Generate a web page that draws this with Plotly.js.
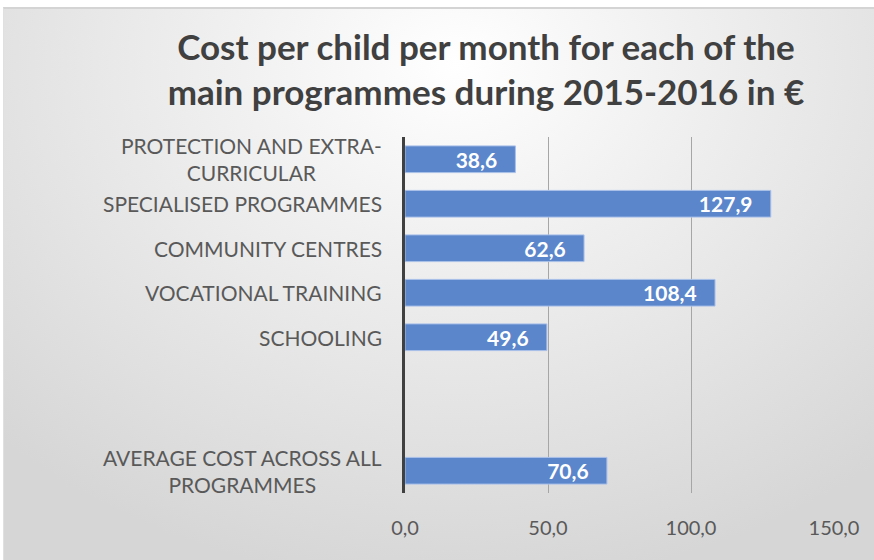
<!DOCTYPE html>
<html>
<head>
<meta charset="utf-8">
<script src="https://cdn.plot.ly/plotly-3.0.1.min.js"></script>
<style>
  html, body { margin: 0; padding: 0; width: 874px; height: 560px; background: #ffffff; overflow: hidden; }
  #frame { position: absolute; left: 3px; top: 7px; width: 871px; height: 553px;
           border-top: 2px solid #d4d4d4; border-left: 1px solid #e0e0e0; box-sizing: border-box;
           background: radial-gradient(ellipse 75% 95% at 52% 10%, #ffffff 0%, #f0f0f0 35%, #d6d6d6 100%); }
  #chart { position: absolute; left: 0; top: 0; width: 874px; height: 560px; }
</style>
</head>
<body>
<div id="frame"></div>
<div id="chart"></div>
<script>
const categories = [
  "PROTECTION AND EXTRA-<br>CURRICULAR",
  "SPECIALISED PROGRAMMES",
  "COMMUNITY CENTRES",
  "VOCATIONAL TRAINING",
  "SCHOOLING",
  " ",
  "  ",
  "AVERAGE COST ACROSS ALL<br>PROGRAMMES"
];
const values = [38.6, 127.9, 62.6, 108.4, 49.6, null, null, 70.6];
const xTickVals = [0, 50, 100, 150];
const xTickText = ["0,0", "50,0", "100,0", "150,0"];
const titleText = "Cost per child per month for each of the<br>main programmes during 2015-2016 in €";

const labels = values.map(v => v === null ? "" : v.toFixed(1).replace(".", ",") + "\u00a0\u00a0\u00a0");

const trace = {
  type: "bar",
  orientation: "h",
  y: categories,
  x: values,
  text: labels,
  textposition: "inside",
  insidetextanchor: "end",
  textfont: { family: "Lato", size: 21, color: "#ffffff", weight: "bold" },
  constraintext: "none",
  marker: { color: "#5b86cb", line: { color: "#a9c0e8", width: 1 } },
  width: 0.6,
  hoverinfo: "none"
};

// Category labels as annotations so that multi-line labels are centred within their block
const catAnnotations = categories.map(c => ({
  xref: "paper", yref: "y",
  x: 0, y: c,
  xanchor: "right", yanchor: "middle",
  xshift: -21,
  text: c.trim() === "" ? "" : c,
  showarrow: false,
  align: "center",
  font: { family: "Lato", size: 21, color: "#595959" }
}));

const layout = {
  width: 874, height: 560,
  margin: { l: 405, r: 40, t: 137, b: 67, autoexpand: false },
  paper_bgcolor: "rgba(0,0,0,0)",
  plot_bgcolor: "rgba(0,0,0,0)",
  showlegend: false,
  title: {
    text: titleText,
    font: { family: "Lato", size: 35, color: "#404040", weight: "bold" },
    xref: "container", yref: "container",
    x: 0.556, xanchor: "center", y: 0.893, yanchor: "middle",
    automargin: false
  },
  xaxis: {
    range: [0, 150],
    tickvals: xTickVals,
    ticktext: xTickText,
    showgrid: true, gridcolor: "#a6a6a6", gridwidth: 1,
    zeroline: false, showline: false,
    ticks: "outside", ticklen: 17, tickcolor: "rgba(0,0,0,0)",
    tickfont: { family: "Lato", size: 20, color: "#595959" },
    automargin: false,
    fixedrange: true
  },
  yaxis: {
    type: "category",
    categoryorder: "array", categoryarray: categories,
    range: [categories.length - 0.5, -0.5],
    autorange: false,
    showline: true, linecolor: "#404040", linewidth: 3,
    showgrid: false, zeroline: false,
    showticklabels: false, ticks: "",
    automargin: false,
    fixedrange: true
  },
  annotations: catAnnotations
};

Plotly.newPlot("chart", [trace], layout, { staticPlot: true, displayModeBar: false });
</script>
</body>
</html>
